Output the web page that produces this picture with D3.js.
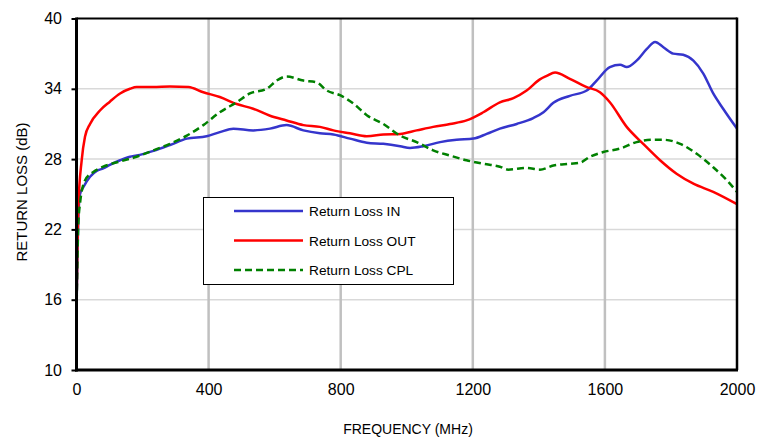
<!DOCTYPE html>
<html><head><meta charset="utf-8">
<script src="https://cdn.jsdelivr.net/npm/d3@7"></script>
<style>body{margin:0;background:#fff;}svg{display:block;font-family:"Liberation Sans",Arial,sans-serif;}</style>
</head><body><svg id="c" width="772" height="439"></svg>
<script>
const xTicks = [0, 400, 800, 1200, 1600, 2000];
const yTicks = [10, 16, 22, 28, 34, 40];
const seriesNames = ["Return Loss IN", "Return Loss OUT", "Return Loss CPL"];
const seriesColors = ["#3535CC", "#FF0000", "#008000"];

const inFreq = [0,3,5.5,10.6,20.6,41,61,81,101,132,162,182,233,283,334,394,434,475,535,586,636,687,737,778,828,879,929,980,1010,1050,1101,1151,1202,1242,1282,1333,1383,1414,1444,1494,1545,1575,1615,1646,1666,1696,1727,1752,1777,1807,1837,1868,1898,1928,1958,2000];
const inDb =   [15,20,23.0,25.0,25.6,26.5,27.0,27.2,27.5,27.9,28.2,28.3,28.7,29.2,29.75,29.95,30.3,30.6,30.45,30.6,30.9,30.45,30.2,30.1,29.75,29.4,29.3,29.1,28.95,29.1,29.45,29.65,29.75,30.15,30.6,31.0,31.5,32.0,32.8,33.4,33.85,34.7,35.85,36.05,35.85,36.4,37.4,38.0,37.55,37.0,36.9,36.4,35.3,33.6,32.3,30.6];

const outFreq = [0,2.5,5.5,15.7,25.7,41,71,101,132,162,182,232,283,339,384,434,485,535,586,636,687,737,778,828,879,929,980,1030,1080,1131,1181,1232,1282,1323,1363,1403,1424,1449,1494,1545,1585,1615,1666,1716,1767,1817,1868,1928,2000];
const outDb =   [15,20,23.9,27.9,29.9,31.0,32.15,32.9,33.6,34.0,34.15,34.15,34.2,34.15,33.7,33.3,32.7,32.3,31.7,31.3,30.9,30.75,30.45,30.2,29.95,30.1,30.15,30.45,30.75,31.0,31.3,32.0,32.85,33.2,33.85,34.8,35.1,35.4,34.85,34.15,33.7,32.85,30.75,29.3,27.9,26.75,25.9,25.2,24.15];

const cplFreq = [0,3,5.5,10.6,26,51,81,132,182,233,283,334,384,434,485,525,576,606,636,687,727,758,798,838,879,929,980,1030,1080,1131,1181,1232,1282,1307,1363,1403,1444,1494,1525,1555,1595,1646,1696,1747,1777,1828,1878,1928,1969,2000];
const cplDb =   [14.9,19.5,22.5,24.2,26.2,26.9,27.35,27.8,28.2,28.75,29.3,30.0,30.9,32.0,32.85,33.6,34.0,34.7,35.05,34.7,34.55,33.85,33.45,32.75,31.75,31.0,30.0,29.45,28.75,28.3,27.9,27.6,27.35,27.1,27.25,27.1,27.45,27.6,27.7,28.2,28.6,28.9,29.45,29.65,29.65,29.3,28.45,27.3,26.2,25.2];

const series = [
  {name: seriesNames[0], color: seriesColors[0], dash: null, x: inFreq, y: inDb},
  {name: seriesNames[1], color: seriesColors[1], dash: null, x: outFreq, y: outDb},
  {name: seriesNames[2], color: seriesColors[2], dash: "7,4", x: cplFreq, y: cplDb}
];

const FONT = "Liberation Sans, Arial, sans-serif";
const svg = d3.select("#c");
const L = 76.5, R = 737, T = 18.5, B = 370;
const x = d3.scaleLinear().domain([0, 2000]).range([L, R]);
const y = d3.scaleLinear().domain([10, 40]).range([B, T]);

// grid
svg.append("g").selectAll("line").data(yTicks.filter(v => v > 10 && v < 40)).join("line")
  .attr("x1", L).attr("x2", R).attr("y1", d => y(d)).attr("y2", d => y(d))
  .attr("stroke", "#d9d9d9").attr("stroke-width", 1.5);
svg.append("g").selectAll("line").data(xTicks.filter(v => v > 0 && v < 2000)).join("line")
  .attr("x1", d => x(d)).attr("x2", d => x(d)).attr("y1", T).attr("y2", B)
  .attr("stroke", "#c0c0c0").attr("stroke-width", 2.5);

// lines
const line = d3.line().x(d => x(d[0])).y(d => y(d[1])).curve(d3.curveMonotoneX);
series.forEach(s => {
  const pts = s.x.map((f, i) => [f, s.y[i]]);
  svg.append("path").datum(pts).attr("d", line).attr("fill", "none")
    .attr("stroke", s.color).attr("stroke-width", 2.5)
    .attr("stroke-dasharray", s.dash);
});

// frame
svg.append("line").attr("x1", L).attr("x2", R).attr("y1", T).attr("y2", T).attr("stroke", "#000").attr("stroke-width", 2);
svg.append("line").attr("x1", R).attr("x2", R).attr("y1", T - 1).attr("y2", B).attr("stroke", "#000").attr("stroke-width", 2.5);

// axes
const yAxis = d3.axisLeft(y).tickValues(yTicks).tickSize(5).tickPadding(9.5).tickFormat(d3.format("d"));
const gy = svg.append("g").attr("transform", `translate(${L},0)`).call(yAxis);
gy.select(".domain").attr("stroke-width", 3).attr("d", `M0,${T-1}V${B+1.5}`);
gy.selectAll(".tick line").attr("stroke-width", 2);
gy.selectAll("text").attr("font-size", 16).attr("fill", "#000").attr("font-family", FONT);

const xAxis = d3.axisBottom(x).tickValues(xTicks).tickSize(0).tickPadding(13.5).tickFormat(d3.format("d"));
const gx = svg.append("g").attr("transform", `translate(0,${B})`).call(xAxis);
gx.select(".domain").attr("stroke-width", 3).attr("d", `M${L-1.5},0H${R+1}`);
gx.selectAll("text").attr("font-size", 16).attr("fill", "#000").attr("font-family", FONT);

// titles
svg.append("text").attr("x", 408).attr("y", 434).attr("text-anchor", "middle")
  .attr("font-size", 14).text("FREQUENCY (MHz)");
svg.append("text").attr("transform", "translate(27,192) rotate(-90)").attr("text-anchor", "middle")
  .attr("font-size", 15).text("RETURN LOSS (dB)");

// legend
const lg = svg.append("g");
lg.append("rect").attr("x", 203.5).attr("y", 197.5).attr("width", 250).attr("height", 87)
  .attr("fill", "#fff").attr("stroke", "#000").attr("stroke-width", 1);
series.forEach((s, i) => {
  const yy = 211 + i * 29.5;
  lg.append("line").attr("x1", 234).attr("x2", 303).attr("y1", yy).attr("y2", yy)
    .attr("stroke", s.color).attr("stroke-width", 2.5).attr("stroke-dasharray", s.dash);
  lg.append("text").attr("x", 309).attr("y", yy + 5).attr("font-size", 13.7).text(s.name);
});
</script></body></html>
